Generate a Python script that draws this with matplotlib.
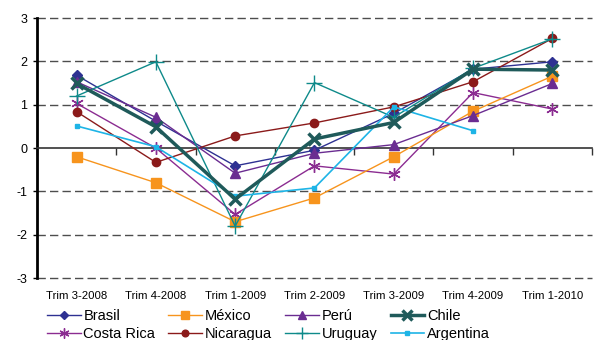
import matplotlib
matplotlib.use("Agg")
import matplotlib.pyplot as plt
import numpy as np

plt.rcParams["font.family"] = ["Liberation Sans", "DejaVu Sans"]

categories = ["Trim 3-2008", "Trim 4-2008", "Trim 1-2009", "Trim 2-2009",
              "Trim 3-2009", "Trim 4-2009", "Trim 1-2010"]
brasil = [1.68, 0.62, -0.41, -0.05, 0.80, 1.82, 1.99]
mexico = [-0.20, -0.80, -1.70, -1.15, -0.20, 0.85, 1.66]
peru = [1.53, 0.71, -0.58, -0.12, 0.08, 0.75, 1.49]
chile = [1.49, 0.49, -1.18, 0.21, 0.59, 1.82, 1.80]
costa_rica = [1.03, 0.00, -1.53, -0.41, -0.60, 1.28, 0.90]
nicaragua = [0.84, -0.33, 0.28, 0.58, 0.95, 1.53, 2.53]
uruguay = [1.20, 1.99, -1.80, 1.51, 0.71, 1.84, 2.52]
argentina = [0.51, 0.03, -1.11, -0.92, 0.95, 0.40, np.nan]
yticks = [-3, -2, -1, 0, 1, 2, 3]

fig = plt.figure(figsize=(5.95, 3.4), dpi=100)
ax = fig.add_axes([0.062, 0.182, 0.933, 0.765])
x = np.arange(len(categories))

for yv in yticks:
    if yv == 0:
        continue
    ax.axhline(yv, color="#4d4d4d", lw=1.0, ls=(0, (6, 3)), zorder=0, clip_on=False)

series = [
    ("Brasil", brasil, dict(color="#2e3192", marker="D", ms=5.5, lw=1.0)),
    ("Costa Rica", costa_rica, dict(color="#8b2c91", marker=(6, 2, 0), ms=9, mew=1.0, lw=1.0)),
    ("México", mexico, dict(color="#f7941d", marker="s", ms=6.5, lw=1.0)),
    ("Nicaragua", nicaragua, dict(color="#8b1a1a", marker="o", ms=6, lw=1.0)),
    ("Perú", peru, dict(color="#6a2c91", marker="^", ms=7.5, lw=1.0)),
    ("Uruguay", uruguay, dict(color="#0e8a8a", marker="+", ms=11, mew=1.0, lw=1.0)),
    ("Chile", chile, dict(color="#1f5a5a", marker="x", ms=9, mew=2.5, lw=2.5)),
    ("Argentina", argentina, dict(color="#1eb4e6", marker="s", ms=3.5, lw=1.2)),
]
handles = {}
zorders = {"Chile": 5}
for name, vals, kw in series:
    h, = ax.plot(x, vals, label=name, zorder=zorders.get(name, 3), **kw)
    handles[name] = h

ax.set_xlim(-0.5, len(categories) - 0.5)
ax.set_ylim(-3, 3)
ax.set_yticks(yticks)
ax.set_yticklabels([str(v) for v in yticks], fontsize=9)
ax.tick_params(axis="y", length=3, width=1, pad=4)

# bottom spine at zero with boundary tick marks
ax.spines["bottom"].set_position(("data", 0))
ax.spines["bottom"].set_linewidth(1.2)
ax.spines["bottom"].set_color("#333333")
ax.set_xticks(np.arange(len(categories) + 1) - 0.5)
ax.set_xticklabels([])
ax.tick_params(axis="x", direction="out", length=5, width=1, color="#333333")
ax.spines["top"].set_visible(False)
ax.spines["right"].set_visible(False)
ax.spines["left"].set_linewidth(2)

sec = ax.secondary_xaxis(0)
sec.set_xticks(x)
sec.set_xticklabels(categories, fontsize=8.2)
sec.tick_params(length=0, pad=9)
sec.spines["bottom"].set_visible(False)

order = ["Brasil", "Costa Rica", "México", "Nicaragua", "Perú", "Uruguay", "Chile", "Argentina"]
fig.legend([handles[n] for n in order], order, ncol=4, loc="upper left",
           bbox_to_anchor=(0.079, 0.09), frameon=False, fontsize=10.5,
           handlelength=2.3, handletextpad=0.2, columnspacing=0.9,
           labelspacing=0.25, borderaxespad=0.0, borderpad=0.0, markerscale=0.8)

fig.savefig("out.png", dpi=100)
